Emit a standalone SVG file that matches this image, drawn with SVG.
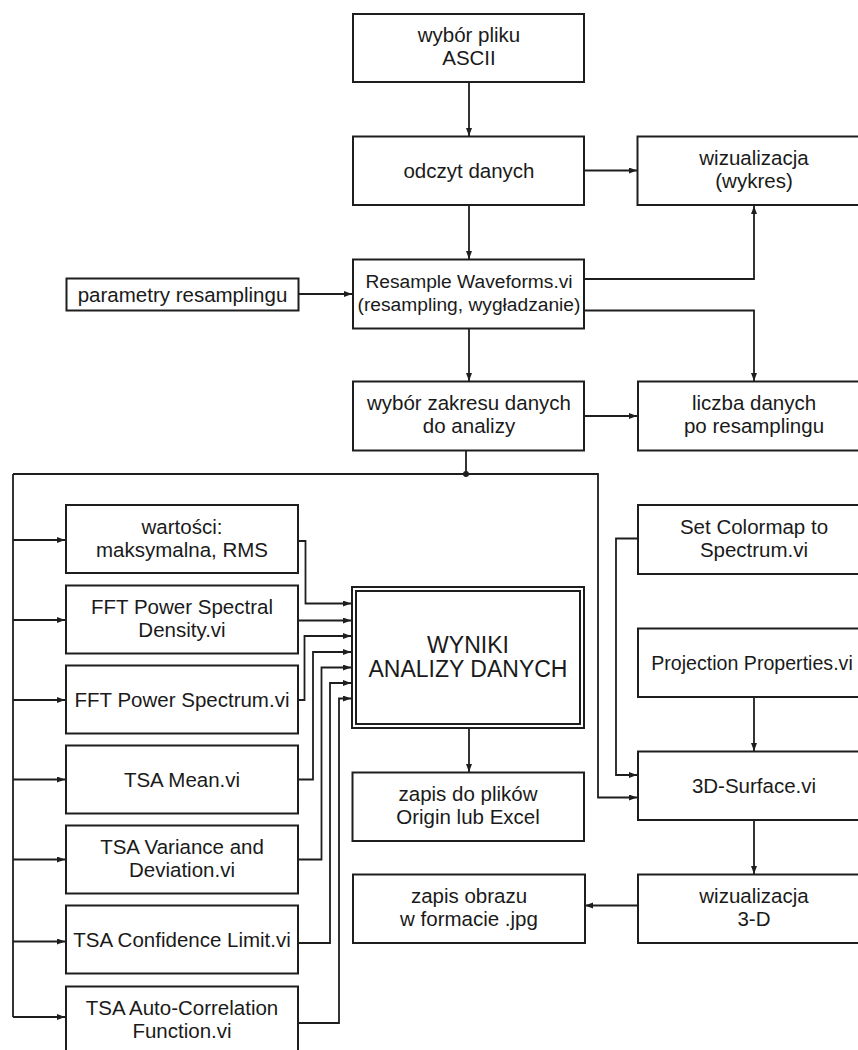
<svg xmlns="http://www.w3.org/2000/svg" width="858" height="1050" viewBox="0 0 858 1050">
<defs>
<marker id="arr" markerUnits="userSpaceOnUse" markerWidth="9" markerHeight="7" refX="8" refY="3" orient="auto">
<path d="M0,0 L8,3 L0,6 z" fill="#1e1e1e"/>
</marker>
<style>
.b{fill:#fff;stroke:#1e1e1e;stroke-width:2}
.t{font-family:"Liberation Sans",Arial,sans-serif;font-size:20.5px;fill:#1a1a1a;text-anchor:middle}
.w{font-size:23px}
.s{font-size:19.2px}
.p{font-size:19.6px}
.c{fill:none;stroke:#1e1e1e;stroke-width:1.8;marker-end:url(#arr)}
.n{fill:none;stroke:#1e1e1e;stroke-width:1.8}
</style>
</defs>
<rect width="858" height="1050" fill="#fff"/>

<g id="connectors">
<path class="c" d="M469,82 V136"/>
<path class="c" d="M584,170.5 H637"/>
<path class="c" d="M469,205 V259"/>
<path class="c" d="M298,294 H352"/>
<path class="c" d="M584,279 H754 V206"/>
<path class="c" d="M584,310.5 H754 V381"/>
<path class="c" d="M469,328.5 V381"/>
<path class="c" d="M584,416 H637"/>
<path class="n" d="M466,450.5 V474"/>
<circle cx="466" cy="474" r="3" fill="#1e1e1e"/>
<path class="c" d="M13,474 H598 V797.5 H637"/>
<path class="n" d="M13,474 V1017"/>
<path class="c" d="M13,540 H65"/>
<path class="c" d="M13,620 H65"/>
<path class="c" d="M13,700 H65"/>
<path class="c" d="M13,779.5 H65"/>
<path class="c" d="M13,859.5 H65"/>
<path class="c" d="M13,941.5 H65"/>
<path class="c" d="M13,1017 H65"/>
<path class="c" d="M298,541 H305.5 V603.5 H351"/>
<path class="c" d="M298,620.5 H351"/>
<path class="c" d="M298,700 H304.5 V636 H351"/>
<path class="c" d="M298,779.5 H313 V652 H351"/>
<path class="c" d="M298,859.5 H321.5 V667.5 H351"/>
<path class="c" d="M298,943 H330 V683 H351"/>
<path class="c" d="M298,1023 H339 V698.5 H351"/>
<path class="c" d="M469,728 V772"/>
<path class="c" d="M638,538.5 H616 V775 H637"/>
<path class="c" d="M754,697 V751"/>
<path class="c" d="M754,820 V874"/>
<path class="c" d="M638,905.5 H585"/>
</g>

<g id="wybor_pliku"><rect class="b" x="353" y="14" width="231" height="68"/><text class="t" x="469" y="42">wybór pliku</text><text class="t" x="469" y="65">ASCII</text></g>
<g id="odczyt"><rect class="b" x="353" y="136.5" width="231" height="68.5"/><text class="t" x="469" y="178">odczyt danych</text></g>
<g id="wizualizacja"><rect class="b" x="637.5" y="136.5" width="245" height="68.5"/><text class="t" x="754" y="165">wizualizacja</text><text class="t" x="754" y="188">(wykres)</text></g>
<g id="parametry"><rect class="b" x="66.5" y="278.5" width="232" height="32"/><text class="t" x="182.5" y="302">parametry resamplingu</text></g>
<g id="resample"><rect class="b" x="353" y="259.5" width="231" height="69"/><text class="t s" x="469" y="288">Resample Waveforms.vi</text><text class="t s" x="469" y="311">(resampling, wygładzanie)</text></g>
<g id="wybor_zakresu"><rect class="b" x="353" y="381.5" width="231" height="69"/><text class="t" x="469" y="410">wybór zakresu danych</text><text class="t" x="469" y="433">do analizy</text></g>
<g id="liczba"><rect class="b" x="638" y="381.5" width="245" height="69"/><text class="t" x="754" y="410">liczba danych</text><text class="t" x="754" y="433">po resamplingu</text></g>

<g id="wartosci"><rect class="b" x="66" y="505" width="232" height="68"/><text class="t" x="182" y="533.5">wartości:</text><text class="t" x="182" y="556.5">maksymalna, RMS</text></g>
<g id="fft_psd"><rect class="b" x="66" y="585.5" width="232" height="68"/><text class="t" x="182" y="614">FFT Power Spectral</text><text class="t" x="182" y="637">Density.vi</text></g>
<g id="fft_ps"><rect class="b" x="66" y="665.5" width="232" height="68"/><text class="t" x="182" y="707">FFT Power Spectrum.vi</text></g>
<g id="tsa_mean"><rect class="b" x="66" y="745.5" width="232" height="68"/><text class="t" x="182" y="787">TSA Mean.vi</text></g>
<g id="tsa_var"><rect class="b" x="66" y="825.5" width="232" height="68"/><text class="t" x="182" y="854">TSA Variance and</text><text class="t" x="182" y="877">Deviation.vi</text></g>
<g id="tsa_conf"><rect class="b" x="66" y="905.5" width="232" height="68"/><text class="t" x="182" y="947">TSA Confidence Limit.vi</text></g>
<g id="tsa_auto"><rect class="b" x="66" y="986.5" width="232" height="70"/><text class="t" x="182" y="1015">TSA Auto-Correlation</text><text class="t" x="182" y="1038">Function.vi</text></g>

<g id="wyniki"><rect class="b" x="352" y="587" width="232" height="141"/><rect class="b" x="356" y="591" width="224" height="133"/><text class="t w" x="468" y="653">WYNIKI</text><text class="t w" x="468" y="677">ANALIZY DANYCH</text></g>
<g id="zapis_plikow"><rect class="b" x="352.5" y="772.5" width="231.5" height="68.5"/><text class="t" x="468" y="801">zapis do plików</text><text class="t" x="468" y="824">Origin lub Excel</text></g>
<g id="zapis_obrazu"><rect class="b" x="353" y="874.5" width="232" height="68.5"/><text class="t" x="469" y="903">zapis obrazu</text><text class="t" x="469" y="926">w formacie .jpg</text></g>

<g id="set_colormap"><rect class="b" x="638" y="505" width="245" height="69"/><text class="t" x="754" y="533.5">Set Colormap to</text><text class="t" x="754" y="556.5">Spectrum.vi</text></g>
<g id="projection"><rect class="b" x="638" y="628.5" width="245" height="68.5"/><text class="t p" x="752" y="670">Projection Properties.vi</text></g>
<g id="surface"><rect class="b" x="638" y="751.5" width="245" height="68.5"/><text class="t" x="754" y="793">3D-Surface.vi</text></g>
<g id="wiz3d"><rect class="b" x="638" y="874.5" width="245" height="68.5"/><text class="t" x="754" y="903">wizualizacja</text><text class="t" x="754" y="926">3-D</text></g>
</svg>
